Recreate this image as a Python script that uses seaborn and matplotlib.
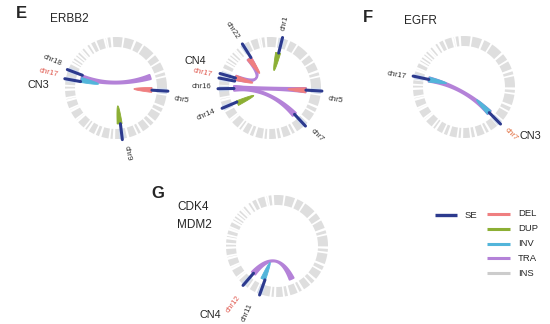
import numpy as np
import pandas as pd
import matplotlib
matplotlib.use("Agg")
import matplotlib.pyplot as plt
import seaborn as sns

# ---------------- data ----------------
chrom_names = ["chr1", "chr2", "chr3", "chr4", "chr5", "chr6", "chr7", "chr8", "chr9", "chr10",
               "chr11", "chr12", "chr13", "chr14", "chr15", "chr16", "chr17", "chr18", "chr19",
               "chr20", "chr21", "chr22", "chrX", "chrY"]
chrom_len = [249, 243, 198, 191, 181, 171, 159, 146, 141, 136, 135, 134, 115, 107, 103, 90,
             81, 78, 59, 63, 48, 51, 155, 59]
centromere = [125, 93, 91, 50, 48, 60, 60, 45, 49, 40, 53, 35, 17, 17, 19, 36, 24, 17, 26,
              28, 13, 15, 60, 12]

event_types = ["DEL", "DUP", "INV", "TRA", "INS"]
event_colors = ["#EF7F80", "#8CAF34", "#52B5DA", "#B482D8", "#CCCCCC"]
se_color = "#2C3A8E"

# panel E, left circle
e1_se = [("chr17", 2), ("chr18", 5), ("chr5", 6), ("chr9", 58)]
e1_links = [("TRA", "chr17", 70, "chr4", 5)]
e1_self = [("INV", "chr17", 28), ("DEL", "chr5", 2), ("DUP", "chr9", 70)]
e1_labels = [("chr18", 28, "#333333"), ("chr17", 29, "#E05A50"), ("chr5", 70, "#333333"),
             ("chr9", 28, "#333333")]

# panel E, right circle
e2_se = [("chr1", 178), ("chr22", 46), ("chr17", 10), ("chr17", 60), ("chr16", 2),
         ("chr14", 32), ("chr5", 5), ("chr7", 46)]
e2_links = [("TRA", "chr17", 64, "chr22", 15), ("TRA", "chr16", 3, "chr5", 6),
            ("TRA", "chr16", 6, "chr7", 50)]
e2_self = [("DUP", "chr1", 168), ("DUP", "chr14", 12), ("DEL", "chr17", 64),
           ("DEL", "chr22", 15), ("DEL", "chr5", 8)]
e2_labels = [("chr22", 37, "#333333"), ("chr1", 168, "#333333"), ("chr5", 70, "#333333"),
             ("chr7", 26, "#333333"), ("chr14", 32, "#333333"), ("chr16", 20, "#333333"),
             ("chr17", 29, "#E05A50")]

# panel F
f_se = [("chr17", 20), ("chr7", 30)]
f_links = [("TRA", "chr17", 20, "chr7", 30)]
f_self = [("INV", "chr17", 20), ("INV", "chr7", 30)]
f_labels = [("chr17", 0, "#333333"), ("chr7", 26, "#E06A3A")]

# panel G
g_se = [("chr12", 60), ("chr11", 5)]
g_links = [("TRA", "chr12", 60, "chr8", 55)]
g_self = [("INV", "chr11", 35)]
g_labels = [("chr12", 20, "#E05A50"), ("chr11", 50, "#333333")]

legend_labels = ["SE"] + event_types

# ---------------- layout helpers ----------------
GAP, START, CEN_GAP, PAD = 2.0, -4.0, 2.2, 0.4
K = (360 - GAP * len(chrom_len)) / sum(chrom_len)
chrom_start, acc = {}, 0
for i, (n, L) in enumerate(zip(chrom_names, chrom_len)):
    chrom_start[n] = START + acc * K + i * GAP
    acc += L
chrom_size = dict(zip(chrom_names, chrom_len))
chrom_cen = dict(zip(chrom_names, centromere))
col = dict(zip(event_types, event_colors))

R_OUT, R_IN, R_LINK, R_SE0, R_SE1 = 51, 41, 36, 36, 52


def ang(ch, pos):
    return chrom_start[ch] + pos * K


def pt(c, r, a):
    t = np.deg2rad(a)
    return np.array([c[0] + r * np.sin(t), c[1] - r * np.cos(t)])


def arc(c, r, a0, a1, n=20):
    return [pt(c, r, a) for a in np.linspace(a0, a1, n)]


def bez(p0, p2, c, n=50):
    t = np.linspace(0, 1, n)[:, None]
    return list((1 - t) ** 2 * p0 + 2 * t * (1 - t) * np.array(c) + t ** 2 * p2)


def sector(ax, c, r0, r1, a0, a1, color):
    pts = np.array(arc(c, r1, a0, a1) + arc(c, r0, a1, a0))
    ax.fill(pts[:, 0], pts[:, 1], color=color, lw=0)


def ribbon(ax, c, a1, a2, color, w=3.6):
    a1s, a1e, a2s, a2e = a1 - w, a1 + w, a2 - w, a2 + w
    if (a2 - a1) % 360 > 180:
        a1s, a1e, a2s, a2e = a2s, a2e, a1s, a1e
    pts = (arc(c, R_LINK, a1s, a1e) + bez(pt(c, R_LINK, a1e), pt(c, R_LINK, a2s), c)
           + arc(c, R_LINK, a2s, a2e) + bez(pt(c, R_LINK, a2e), pt(c, R_LINK, a1s), c))
    pts = np.array(pts)
    ax.fill(pts[:, 0], pts[:, 1], color=color, lw=1.3, ec=color, joinstyle="round")


def self_wedge(ax, c, a, color, w=4.0):
    pts = arc(c, R_LINK, a - w, a + w) + bez(pt(c, R_LINK, a + w), pt(c, R_LINK, a - w), c)
    pts = np.array(pts)
    ax.fill(pts[:, 0], pts[:, 1], color=color, lw=0.6, ec=color)


# ---------------- figure ----------------
sns.set_theme(style="white")
plt.rcParams["font.family"] = ["Liberation Sans", "DejaVu Sans"]

fig = plt.figure(figsize=(5.5, 3.24), dpi=100)
ax = fig.add_axes([0, 0, 1, 1])

panels = [
    ((116, 88), 59, e1_se, e1_links, e1_self, e1_labels),
    ((270, 88), 59, e2_se, e2_links, e2_self, e2_labels),
    ((464, 87), 59, f_se, f_links, f_self, f_labels),
    ((277, 246), 63, g_se, g_links, g_self, g_labels),
]

se_rows = []
for pid, (c, rlab, ses, links, selfs, labels) in enumerate(panels):
    for n in chrom_names:
        a0 = chrom_start[n]
        ac = a0 + chrom_cen[n] * K
        a1 = a0 + chrom_size[n] * K
        sector(ax, c, R_IN, R_OUT, a0 + PAD, ac - CEN_GAP / 2, "#DEDEDE")
        sector(ax, c, R_IN, R_OUT, ac + CEN_GAP / 2, a1 - PAD, "#DEDEDE")
    for ch, pos in ses:
        a = ang(ch, pos)
        sector(ax, c, R_IN, R_OUT, a - 3.5, a + 3.5, "#D4DEEE")
    for typ, c1, p1, c2, p2 in links:
        ribbon(ax, c, ang(c1, p1), ang(c2, p2), col[typ])
    for typ, ch, pos in selfs:
        self_wedge(ax, c, ang(ch, pos), col[typ])
    for k, (ch, pos) in enumerate(ses):
        a = ang(ch, pos)
        for r in (R_SE0, R_SE1):
            p = pt(c, r, a)
            se_rows.append({"x": p[0], "y": p[1], "id": f"{pid}-{k}"})
    for ch, pos, tc in labels:
        a = ang(ch, pos) % 360
        p = pt(c, rlab, a)
        if a < 180:
            rot, ha = 90 - a, "left"
        else:
            rot, ha = 270 - a, "right"
        ax.text(p[0], p[1], ch, rotation=rot, ha=ha, va="center", rotation_mode="anchor",
                fontsize=5.7, color=tc)

se_df = pd.DataFrame(se_rows)
sns.lineplot(data=se_df, x="x", y="y", units="id", estimator=None, sort=False,
             color=se_color, lw=2.2, ax=ax, legend=False)
ax.set_xlim(0, 550)
ax.set_ylim(324, 0)
ax.axis("off")

# titles / annotations
ax.text(21, 14, "E", fontsize=12, fontweight="bold", ha="center", va="center")
ax.text(69, 19, "ERBB2", fontsize=8.5, ha="center", va="center")
ax.text(368, 17, "F", fontsize=12, fontweight="bold", ha="center", va="center")
ax.text(420, 21, "EGFR", fontsize=8.5, ha="center", va="center")
ax.text(158, 193, "G", fontsize=12, fontweight="bold", ha="center", va="center")
ax.text(177, 207, "CDK4", fontsize=8.5, ha="left", va="center")
ax.text(177, 225, "MDM2", fontsize=8.5, ha="left", va="center")
ax.text(38, 85, "CN3", fontsize=7.8, ha="center", va="center")
ax.text(195, 61, "CN4", fontsize=7.8, ha="center", va="center")
ax.text(530, 136, "CN3", fontsize=7.8, ha="center", va="center")
ax.text(210, 315, "CN4", fontsize=7.8, ha="center", va="center")

# legend
ax.plot([435, 457], [215, 215], color=se_color, lw=2.4, solid_capstyle="butt")
ax.text(465, 215, legend_labels[0], fontsize=6.8, va="center", ha="left")
for i, (lab, cc) in enumerate(zip(legend_labels[1:], event_colors)):
    y = 214 + i * 14.8
    ax.plot([487, 510], [y, y], color=cc, lw=2.2, solid_capstyle="butt")
    ax.text(518, y, lab, fontsize=6.8, va="center", ha="left")

fig.savefig("out.png", dpi=100)
